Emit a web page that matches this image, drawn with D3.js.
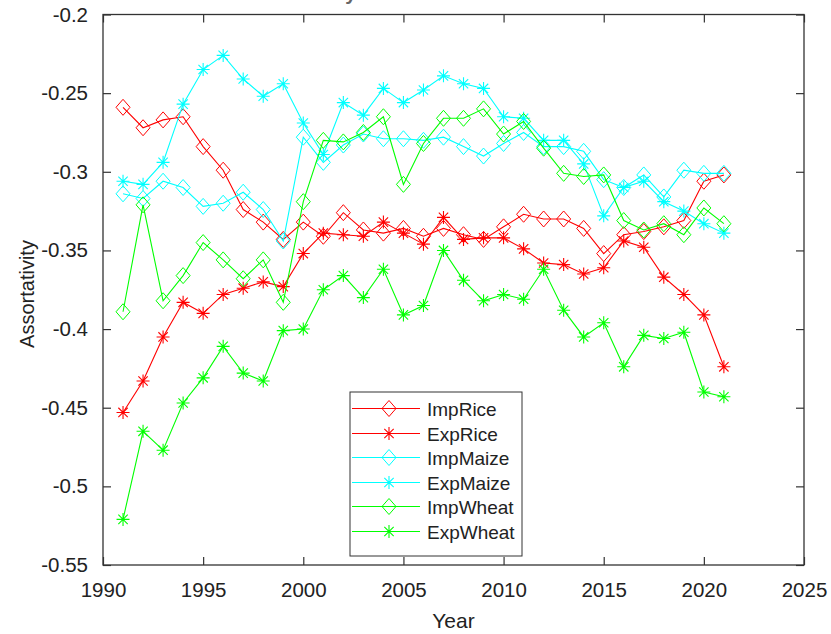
<!DOCTYPE html>
<html>
<head>
<meta charset="utf-8">
<script src="https://cdn.jsdelivr.net/npm/d3@7"></script>
<style>
  body { margin: 0; background: #fff; }
  text { font-family: "Liberation Sans", Arial, sans-serif; }
</style>
</head>
<body>
<div id="chart"></div>
<script>
// data
var years = d3.range(1991, 2022);
var impRice  = [-0.259,-0.272,-0.267,-0.265,-0.284,-0.299,-0.324,-0.332,-0.343,-0.332,-0.341,-0.326,-0.337,-0.339,-0.336,-0.341,-0.336,-0.340,-0.343,-0.335,-0.327,-0.330,-0.330,-0.336,-0.352,-0.340,-0.338,-0.335,-0.331,-0.306,-0.302];
var expRice  = [-0.453,-0.433,-0.405,-0.383,-0.390,-0.378,-0.374,-0.370,-0.373,-0.352,-0.339,-0.340,-0.341,-0.332,-0.339,-0.346,-0.329,-0.343,-0.342,-0.342,-0.349,-0.358,-0.359,-0.365,-0.361,-0.344,-0.348,-0.367,-0.378,-0.391,-0.424];
var impMaize = [-0.314,-0.317,-0.306,-0.310,-0.322,-0.320,-0.313,-0.324,-0.344,-0.278,-0.294,-0.283,-0.276,-0.279,-0.279,-0.280,-0.278,-0.284,-0.290,-0.282,-0.275,-0.284,-0.284,-0.287,-0.305,-0.310,-0.302,-0.316,-0.299,-0.301,-0.301];
var expMaize = [-0.306,-0.308,-0.294,-0.257,-0.235,-0.226,-0.241,-0.252,-0.244,-0.269,-0.289,-0.256,-0.264,-0.247,-0.256,-0.248,-0.239,-0.244,-0.247,-0.265,-0.266,-0.280,-0.280,-0.295,-0.328,-0.310,-0.306,-0.319,-0.325,-0.333,-0.339];
var impWheat = [-0.389,-0.321,-0.382,-0.366,-0.345,-0.356,-0.368,-0.356,-0.383,-0.319,-0.280,-0.281,-0.275,-0.265,-0.308,-0.282,-0.266,-0.266,-0.260,-0.276,-0.268,-0.285,-0.301,-0.303,-0.302,-0.331,-0.337,-0.333,-0.340,-0.323,-0.333];
var expWheat = [-0.521,-0.465,-0.477,-0.447,-0.431,-0.411,-0.428,-0.433,-0.401,-0.400,-0.375,-0.366,-0.380,-0.362,-0.391,-0.385,-0.350,-0.369,-0.382,-0.378,-0.381,-0.362,-0.388,-0.405,-0.396,-0.424,-0.404,-0.406,-0.402,-0.440,-0.443];

var xTicks = [1990,1995,2000,2005,2010,2015,2020,2025];
var yTicks = [-0.55,-0.5,-0.45,-0.4,-0.35,-0.3,-0.25,-0.2];

var series = [
  {name: "ImpRice",  values: impRice,  color: "#ff0000", marker: "diamond"},
  {name: "ExpRice",  values: expRice,  color: "#ff0000", marker: "star"},
  {name: "ImpMaize", values: impMaize, color: "#00ffff", marker: "diamond"},
  {name: "ExpMaize", values: expMaize, color: "#00ffff", marker: "star"},
  {name: "ImpWheat", values: impWheat, color: "#00ff00", marker: "diamond"},
  {name: "ExpWheat", values: expWheat, color: "#00ff00", marker: "star"}
];

var W = 831, H = 634;
var pLeft = 103, pRight = 804, pTop = 14.5, pBottom = 565;
var axCol = "#333";

var svg = d3.select("#chart").append("svg")
    .attr("width", W)
    .attr("height", H);

var x = d3.scaleLinear().domain([1990, 2025]).range([pLeft, pRight]);
var y = d3.scaleLinear().domain([-0.55, -0.2]).range([pBottom, pTop]);

// title, cut off at the top of the picture (only the bottoms show)
svg.append("text")
    .attr("x", 448).attr("y", 0)
    .attr("text-anchor", "middle")
    .attr("font-size", "20px")
    .attr("font-weight", "bold")
    .attr("fill", "#666")
    .text("Assortativity of Global Grain Trade Networks");

// axes (ticks point inward, like matlab)
var tk = 8;
svg.append("g")
    .attr("transform", "translate(0," + pBottom + ")")
    .call(d3.axisBottom(x).tickValues(xTicks).tickSize(-tk).tickPadding(tk + 9).tickFormat(d3.format("d")))
    .call(g => g.select(".domain").remove());
svg.append("g")
    .attr("transform", "translate(0," + pTop + ")")
    .call(d3.axisTop(x).tickValues(xTicks).tickSize(-tk).tickFormat(""))
    .call(g => g.select(".domain").remove());
svg.append("g")
    .attr("transform", "translate(" + pLeft + ",0)")
    .call(d3.axisLeft(y).tickValues(yTicks).tickSize(-tk).tickPadding(tk + 7).tickFormat(d => String(+d.toFixed(2))))
    .call(g => g.select(".domain").remove());
svg.append("g")
    .attr("transform", "translate(" + pRight + ",0)")
    .call(d3.axisRight(y).tickValues(yTicks).tickSize(-tk).tickFormat(""))
    .call(g => g.select(".domain").remove());

svg.selectAll(".tick line").attr("stroke", axCol).attr("stroke-width", 1.2);
svg.selectAll(".tick text")
    .attr("fill", "#222")
    .attr("font-size", "20.5px")
    .attr("font-family", "'Liberation Sans', Arial, sans-serif");

svg.append("rect")
    .attr("x", pLeft).attr("y", pTop)
    .attr("width", pRight - pLeft).attr("height", pBottom - pTop)
    .attr("fill", "none")
    .attr("stroke", axCol)
    .attr("stroke-width", 1.3);

// axis labels
svg.append("text")
    .attr("x", (pLeft + pRight) / 2).attr("y", 628)
    .attr("text-anchor", "middle")
    .attr("font-size", "21px")
    .attr("fill", "#222")
    .text("Year");
svg.append("text")
    .attr("transform", "translate(34,294) rotate(-90)")
    .attr("text-anchor", "middle")
    .attr("font-size", "20px")
    .attr("fill", "#222")
    .text("Assortativity");

// markers
function drawMarker(g, type, color) {
    if (type == "diamond") {
        g.append("path")
            .attr("d", "M0,-8L7,0L0,8L-7,0Z")
            .attr("fill", "none")
            .attr("stroke", color)
            .attr("stroke-width", 1);
    } else {
        var r = 6.5, d = r * 0.72;
        g.append("path")
            .attr("d", "M" + (-r) + ",0H" + r + "M0," + (-r) + "V" + r +
                       "M" + (-d) + "," + (-d) + "L" + d + "," + d +
                       "M" + (-d) + "," + d + "L" + d + "," + (-d))
            .attr("stroke", color)
            .attr("stroke-width", 1.1);
    }
}

var line = d3.line()
    .x((d, i) => x(years[i]))
    .y(d => y(d));

series.forEach(function(s) {
    var g = svg.append("g");
    g.append("path")
        .datum(s.values)
        .attr("d", line)
        .attr("fill", "none")
        .attr("stroke", s.color)
        .attr("stroke-width", 1.1);
    s.values.forEach(function(v, i) {
        var m = g.append("g").attr("transform", "translate(" + x(years[i]) + "," + y(v) + ")");
        drawMarker(m, s.marker, s.color);
    });
});

// legend
var lg = svg.append("g");
lg.append("rect")
    .attr("x", 350).attr("y", 392)
    .attr("width", 172).attr("height", 164)
    .attr("fill", "#fff")
    .attr("stroke", axCol)
    .attr("stroke-width", 1);
series.forEach(function(s, i) {
    var ry = Math.round(408 + i * 24.5) + 0.5;
    lg.append("line")
        .attr("x1", 352).attr("x2", 420)
        .attr("y1", ry).attr("y2", ry)
        .attr("stroke", s.color)
        .attr("stroke-width", 1.2);
    drawMarker(lg.append("g").attr("transform", "translate(389," + ry + ")"), s.marker, s.color);
    lg.append("text")
        .attr("x", 427).attr("y", ry + 7)
        .attr("font-size", "19px")
        .attr("fill", "#222")
        .text(s.name);
});
</script>
</body>
</html>
